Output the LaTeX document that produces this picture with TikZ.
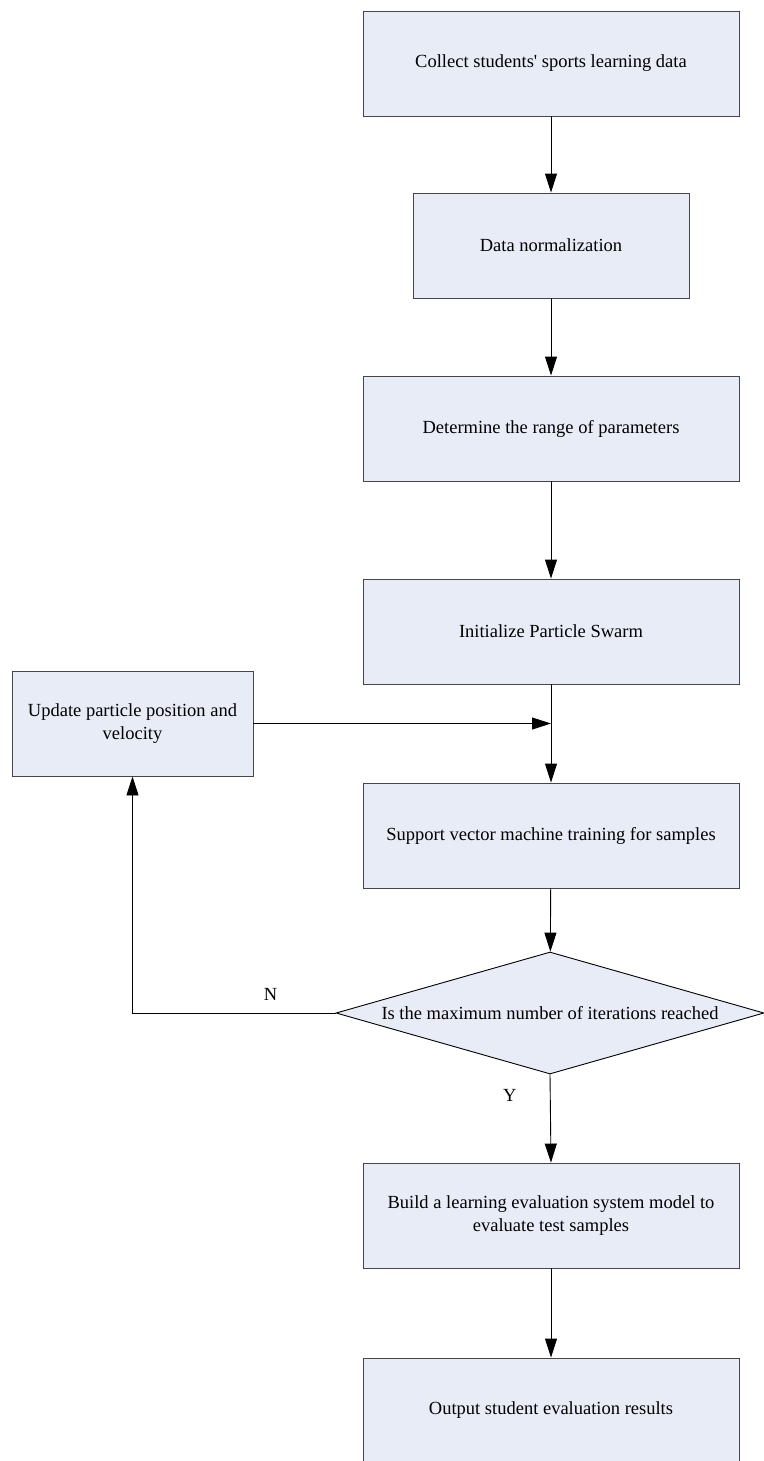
\documentclass[tikz,border=0pt]{standalone}
\usepackage{fontspec}
\setmainfont{Liberation Serif}
\usetikzlibrary{positioning,shapes.geometric,arrows.meta}
\definecolor{boxfill}{RGB}{231,236,247}
\definecolor{boxline}{RGB}{70,70,70}

\begin{document}
\begin{tikzpicture}[
    x=1pt, y=-1pt,
    process/.style={draw=boxline, fill=boxfill, line width=0.9pt, minimum width=376pt, minimum height=105pt, inner sep=0pt, align=center, font=\fontsize{18.5}{23.5}\selectfont},
    decision/.style={draw=black, fill=boxfill, diamond, aspect=3.5, line width=0.9pt, minimum width=428pt, minimum height=122pt, inner sep=0pt, font=\fontsize{18.5}{23.5}\selectfont},
    flow/.style={draw, line width=0.9pt, -{Triangle[length=19pt,width=12pt]}},
    tag/.style={font=\fontsize{18.5}{23.5}\selectfont}
]
\useasboundingbox (0,0) rectangle (763,1461);

\node[process] (collect) at (551,63.5) {Collect students\textquotesingle{} sports learning data};
\node[process, minimum width=276pt] (norm) at (551,245.5) {Data normalization};
\node[process] (range) at (551,428.5) {Determine the range of parameters};
\node[process] (init) at (551,631.5) {Initialize Particle Swarm};
\node[process, minimum width=241pt] (update) at (132.5,723.5) {Update particle position and\\velocity};
\node[process] (svm) at (551,835.5) {Support vector machine training for samples};
\node[decision] (check) at (550,1013) {Is the maximum number of iterations reached};
\node[process] (build) at (551,1215.5) {Build a learning evaluation system model to\\evaluate test samples};
\node[process] (output) at (551,1410.5) {Output student evaluation results};

% point where the loop joins the main line
\coordinate (join) at (init.south |- update.east);

\draw[flow] (collect) -- (norm);
\draw[flow] (norm) -- (range);
\draw[flow] (range) -- (init);
\draw[flow] (init) -- (svm);
\draw[flow] (update) -- (join);
\draw[flow] (svm) -- (check);
\draw[flow] (check.south) -- node[tag, pos=0.24, left=30pt] {Y} (build.north);
\draw[flow] (check.west) -| node[tag, pos=0.16, above=9pt] {N} (update.south);
\draw[flow] (build) -- (output);
\end{tikzpicture}
\end{document}
